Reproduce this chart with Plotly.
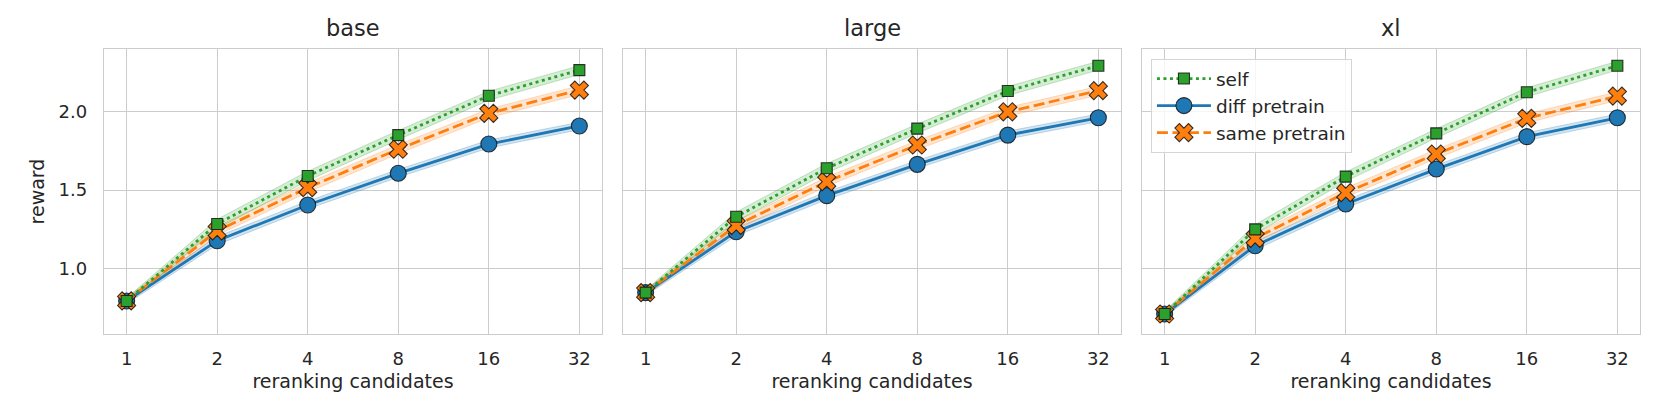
import plotly.graph_objects as go

candidates = [1, 2, 4, 8, 16, 32]
tick_labels = ["1", "2", "4", "8", "16", "32"]
models = ["base", "large", "xl"]
series_names = ["self", "diff pretrain", "same pretrain"]

# mean reward per model / series
self_base = [0.795, 1.284, 1.589, 1.849, 2.099, 2.262]
diff_base = [0.795, 1.178, 1.405, 1.606, 1.792, 1.907]
same_base = [0.795, 1.240, 1.515, 1.759, 1.987, 2.135]

self_large = [0.848, 1.330, 1.638, 1.890, 2.129, 2.290]
diff_large = [0.848, 1.235, 1.464, 1.663, 1.849, 1.959]
same_large = [0.848, 1.275, 1.553, 1.786, 1.997, 2.131]

self_xl = [0.712, 1.250, 1.585, 1.860, 2.121, 2.290]
diff_xl = [0.712, 1.146, 1.411, 1.633, 1.839, 1.959]
same_xl = [0.712, 1.193, 1.483, 1.729, 1.955, 2.097]

# confidence band half-widths
self_ci = [0.018, 0.030, 0.030, 0.029, 0.029, 0.028]
diff_ci = [0.018, 0.026, 0.025, 0.025, 0.025, 0.024]
same_ci = [0.018, 0.028, 0.029, 0.029, 0.028, 0.028]

data = {
    "base": {"self": self_base, "diff pretrain": diff_base, "same pretrain": same_base},
    "large": {"self": self_large, "diff pretrain": diff_large, "same pretrain": same_large},
    "xl": {"self": self_xl, "diff pretrain": diff_xl, "same pretrain": same_xl},
}
cis = {"self": self_ci, "diff pretrain": diff_ci, "same pretrain": same_ci}

styles = {
    "self": dict(color="#2ca02c", rgb="44,160,44", symbol="square", size=11, dash="3px,3.5px", rank=1),
    "diff pretrain": dict(color="#1f77b4", rgb="31,119,180", symbol="circle", size=16, dash="solid", rank=2),
    "same pretrain": dict(color="#ff7f0e", rgb="255,127,14", symbol="x", size=16, dash="11px,4.5px", rank=3),
}
draw_order = ["diff pretrain", "same pretrain", "self"]

domains = [[0.0, 0.32422], [0.33789, 0.66211], [0.67578, 1.0]]

fig = go.Figure()
for i, m in enumerate(models):
    xa = "x" if i == 0 else f"x{i+1}"
    ya = "y" if i == 0 else f"y{i+1}"
    for s in draw_order:
        st = styles[s]
        vals = data[m][s]
        ci = cis[s]
        lo = [v - c for v, c in zip(vals, ci)]
        hi = [v + c for v, c in zip(vals, ci)]
        fig.add_trace(go.Scatter(
            x=candidates, y=lo, mode="lines", xaxis=xa, yaxis=ya,
            line=dict(color=f"rgba({st['rgb']},0.25)", width=1),
            showlegend=False, hoverinfo="skip"))
        fig.add_trace(go.Scatter(
            x=candidates, y=hi, mode="lines", xaxis=xa, yaxis=ya,
            line=dict(color=f"rgba({st['rgb']},0.25)", width=1),
            fill="tonexty", fillcolor=f"rgba({st['rgb']},0.2)",
            showlegend=False, hoverinfo="skip"))
    for s in draw_order:
        st = styles[s]
        fig.add_trace(go.Scatter(
            x=candidates, y=data[m][s], mode="lines+markers", name=s,
            xaxis=xa, yaxis=ya,
            line=dict(color=st["color"], width=2.8, dash=st["dash"]),
            marker=dict(symbol=st["symbol"], size=st["size"], color=st["color"],
                        line=dict(color="rgba(20,20,20,0.85)", width=1.1)),
            showlegend=(i == 2), legendrank=st["rank"]))

tick_font = dict(family="DejaVu Sans", size=18, color="#262626")
label_font = dict(family="DejaVu Sans", size=19, color="#262626")
layout = dict(
    width=1661, height=415,
    margin=dict(l=104, r=21, t=49, b=81),
    paper_bgcolor="white", plot_bgcolor="white",
    font=dict(family="DejaVu Sans", color="#262626"),
    legend=dict(x=0.6816, y=0.9649, xanchor="left", yanchor="top",
                bgcolor="rgba(255,255,255,0.8)", bordercolor="#d5d5d5", borderwidth=1,
                font=dict(family="DejaVu Sans", size=18.5, color="#262626"),
                itemwidth=54, traceorder="normal"),
    annotations=[],
)
for i, m in enumerate(models):
    kx = "xaxis" if i == 0 else f"xaxis{i+1}"
    ky = "yaxis" if i == 0 else f"yaxis{i+1}"
    layout[kx] = dict(
        domain=domains[i], anchor="y" if i == 0 else f"y{i+1}",
        type="log", range=[-0.07526, 1.58041],
        tickvals=candidates, ticktext=tick_labels, tickfont=tick_font,
        showgrid=True, gridcolor="#cccccc", gridwidth=1.4,
        showline=True, linecolor="#cccccc", linewidth=1.4, mirror=True,
        ticks="", ticklabelstandoff=8, zeroline=False,
        title=dict(text="reranking candidates", font=label_font, standoff=6),
    )
    layout[ky] = dict(
        domain=[0, 1], anchor="x" if i == 0 else f"x{i+1}",
        range=[0.585, 2.396], tickvals=[1.0, 1.5, 2.0], ticktext=["1.0", "1.5", "2.0"],
        tickfont=tick_font, showticklabels=(i == 0),
        showgrid=True, gridcolor="#cccccc", gridwidth=1.4,
        showline=True, linecolor="#cccccc", linewidth=1.4, mirror=True,
        ticks="", ticklabelstandoff=12, zeroline=False,
        title=dict(text="reward" if i == 0 else "", font=label_font, standoff=8),
    )
    layout["annotations"].append(dict(
        text=m, x=(domains[i][0] + domains[i][1]) / 2, y=1.0, xref="paper", yref="paper",
        xanchor="center", yanchor="bottom", yshift=6, showarrow=False,
        font=dict(family="DejaVu Sans", size=22.5, color="#262626")))

fig.update_layout(**layout)
fig.write_html("out.html", config={"displayModeBar": False},
               post_script="document.body.style.margin='0';document.body.style.padding='0';")
